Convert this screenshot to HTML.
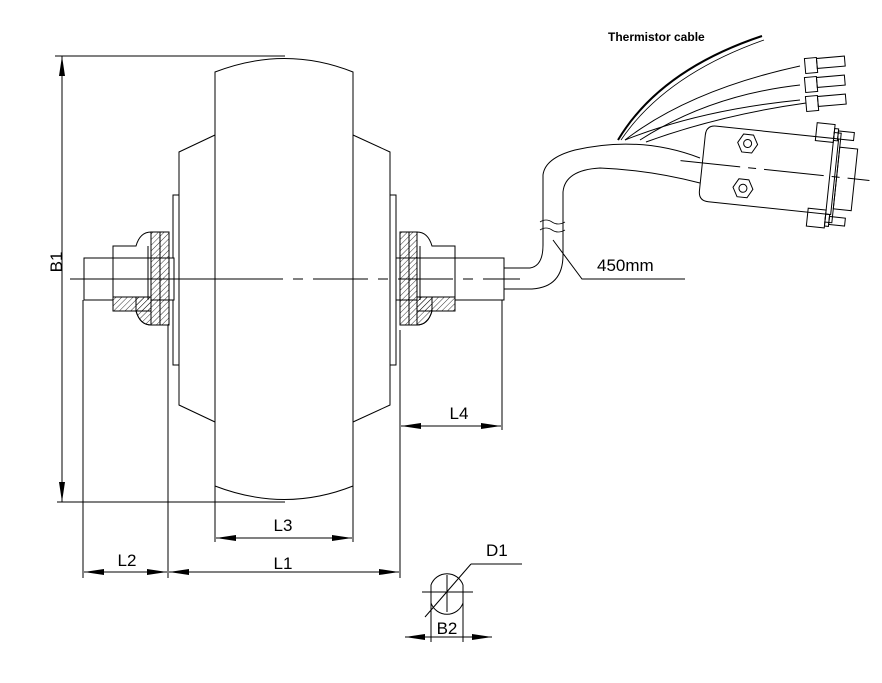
<!DOCTYPE html>
<html><head><style>
html,body{margin:0;padding:0;background:#fff;}
svg{display:block;}
text{font-family:"Liberation Sans",sans-serif;fill:#000;}
</style></head><body>
<svg width="882" height="683" viewBox="0 0 882 683" xmlns="http://www.w3.org/2000/svg">
<defs>
<pattern id="h" width="4" height="4" patternUnits="userSpaceOnUse" patternTransform="rotate(45)">
<line x1="0" y1="0" x2="0" y2="4" stroke="#000" stroke-width="0.8"/>
</pattern>
<marker id="a" viewBox="0 0 20 6" refX="20" refY="3" markerWidth="20" markerHeight="6" markerUnits="userSpaceOnUse" orient="auto-start-reverse">
<path d="M0,0 L20,3 L0,6 z" fill="#000"/>
</marker>
</defs>
<g fill="none" stroke="#000" stroke-width="1">
<path d="M215,72 Q285,45 353,72 L353,486 Q285,513 215,486 Z" fill="#fff"/>
<path d="M215,135 L179,152 L179,405 L215,422"/>
<path d="M353,135 L390,152 L390,405 L353,422"/>
<rect x="173" y="195" width="6" height="170"/>
<rect x="390" y="195" width="6" height="170"/>
<rect x="84" y="258" width="90" height="42" fill="#fff"/>
<rect x="396" y="258" width="108" height="42" fill="#fff"/>
<line x1="504" y1="268" x2="520" y2="268"/><line x1="504" y1="289" x2="520" y2="289"/><line x1="504" y1="279" x2="520" y2="279"/>
<path d="M113,246 L136,246 Q140,232 151,232 L151,325 Q140,325 136,311 L113,311 Z" fill="#fff"/>
<rect x="113" y="297" width="38" height="14" fill="url(#h)"/>
<path d="M136,311 Q140,325 151,325 L151,297 L136,297 Z" fill="url(#h)"/>
<rect x="151" y="232" width="9" height="93" fill="url(#h)"/>
<rect x="160" y="232" width="9" height="93" fill="url(#h)"/>
<line x1="113" y1="258" x2="151" y2="258"/>
<line x1="148" y1="246" x2="148" y2="300"/>
<path d="M455,246 L432,246 Q428,232 417,232 L417,325 Q428,325 432,311 L455,311 Z" fill="#fff"/>
<rect x="417" y="297" width="38" height="14" fill="url(#h)"/>
<path d="M432,311 Q428,325 417,325 L417,297 L432,297 Z" fill="url(#h)"/>
<rect x="400" y="232" width="9" height="93" fill="url(#h)"/>
<rect x="409" y="232" width="8" height="93" fill="url(#h)"/>
<line x1="417" y1="258" x2="455" y2="258"/>
<line x1="420" y1="246" x2="420" y2="300"/>
<line x1="70" y1="279" x2="228" y2="279"/>
<line x1="228" y1="279" x2="520" y2="279" stroke-dasharray="55,10,10,10"/>
<path d="M520,268 L530,268 Q543,266 543,245 L543,175 Q545,158 575,150 Q640,135 700,158"/>
<path d="M520,289 L532,289 Q563,287 563,255 L563,192 Q565,170 600,168 Q650,170 700,183"/>
<path d="M540,222 q6,-4 12,0 q6,4 13,0 M540,230 q6,-4 12,0 q6,4 13,0" stroke-width="0.8"/>
<path d="M618,140 Q660,70 762,36" stroke-width="2"/>
<path d="M621,140 Q665,75 764,40" stroke-width="0.8"/>
<path d="M625,140 Q690,90 800,66"/>
<path d="M640,140 Q710,95 800,85"/>
<path d="M625,140 Q700,110 800,100"/>
<path d="M646,142 Q720,115 806,103"/>
<rect x="805" y="58" width="12" height="15" transform="rotate(-5 811 65)"/><rect x="817" y="59" width="28" height="10" transform="rotate(-5 811 65)"/>
<rect x="805" y="77" width="12" height="15" transform="rotate(-5 811 84)"/><rect x="817" y="78" width="28" height="10" transform="rotate(-5 811 84)"/>
<rect x="806" y="96" width="12" height="15" transform="rotate(-5 812 103)"/><rect x="818" y="97" width="28" height="10" transform="rotate(-5 812 103)"/>
<g transform="rotate(6 770 170)">
<path d="M712,132 L835,132 L835,208 L712,208 Q702,208 702,198 L702,142 Q702,132 712,132 Z" fill="#fff"/>
<rect x="830" y="126" width="7" height="90"/>
<rect x="837" y="140" width="18" height="62"/>
<rect x="812" y="118" width="18" height="18"/><rect x="830" y="122" width="4" height="12"/><rect x="834" y="124" width="16" height="8"/>
<rect x="812" y="204" width="18" height="18"/><rect x="830" y="208" width="4" height="12"/><rect x="834" y="210" width="16" height="8"/>
<polygon points="740,137 750,137 755,146 750,155 740,155 735,146"/><circle cx="745" cy="146" r="4"/>
<polygon points="740,182 750,182 755,191 750,200 740,200 735,191"/><circle cx="745" cy="191" r="4"/>
<line x1="680" y1="170" x2="870" y2="170" stroke-dasharray="60,8,8,8"/>
</g>
<path d="M553,240 L582,279 L685,279"/>
<line x1="55" y1="56" x2="285" y2="56"/>
<line x1="57" y1="502" x2="285" y2="502"/>
<line x1="62" y1="56" x2="62" y2="502" marker-start="url(#a)" marker-end="url(#a)"/>
<line x1="83" y1="300" x2="83" y2="578"/>
<line x1="168" y1="325" x2="168" y2="578"/>
<line x1="400" y1="330" x2="400" y2="578"/>
<line x1="502" y1="300" x2="502" y2="430"/>
<line x1="215" y1="486" x2="215" y2="542"/>
<line x1="353" y1="486" x2="353" y2="542"/>
<line x1="84" y1="572" x2="167" y2="572" marker-start="url(#a)" marker-end="url(#a)"/>
<line x1="169" y1="572" x2="399" y2="572" marker-start="url(#a)" marker-end="url(#a)"/>
<line x1="216" y1="538" x2="352" y2="538" marker-start="url(#a)" marker-end="url(#a)"/>
<line x1="401" y1="426" x2="501" y2="426" marker-start="url(#a)" marker-end="url(#a)"/>
<path d="M431,585 A17,17 0 0 1 463,585 L463,603 A17,17 0 0 1 431,603 Z"/>
<line x1="422" y1="592" x2="473" y2="592"/>
<line x1="447" y1="575" x2="447" y2="612"/>
<line x1="425" y1="617" x2="471" y2="564"/><line x1="471" y1="564" x2="522" y2="564"/>
<line x1="431" y1="600" x2="431" y2="642"/><line x1="463" y1="600" x2="463" y2="642"/>
<line x1="405" y1="637" x2="492" y2="637" marker-start="url(#a)" marker-end="url(#a)"/>
</g>
<g font-size="17">
<text x="127" y="566" text-anchor="middle">L2</text>
<text x="283" y="569" text-anchor="middle">L1</text>
<text x="283" y="531" text-anchor="middle">L3</text>
<text x="459" y="419" text-anchor="middle">L4</text>
<text x="597" y="271">450mm</text>
<text x="486" y="556">D1</text>
<text x="447" y="634" text-anchor="middle">B2</text>
<text transform="translate(62,262) rotate(-90)" text-anchor="middle">B1</text>
</g>
<text x="608" y="41" font-size="12" font-weight="bold">Thermistor cable</text>
</svg>
</body></html>
